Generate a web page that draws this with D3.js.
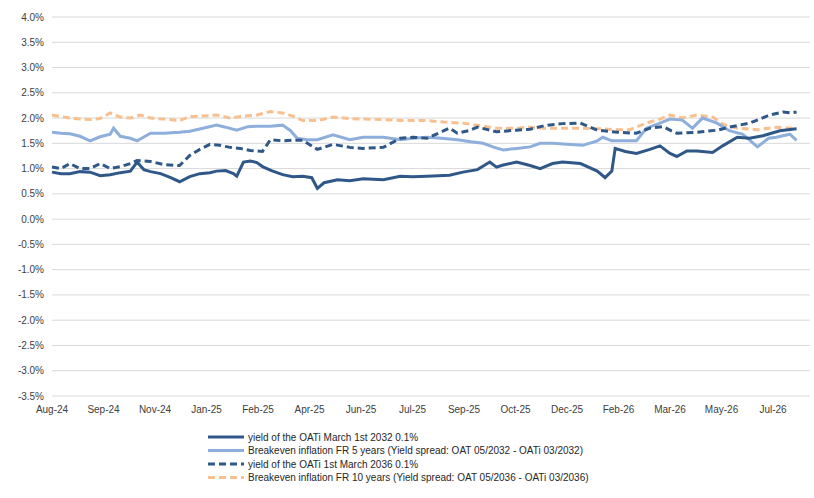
<!DOCTYPE html>
<html><head><meta charset="utf-8">
<script src="https://cdn.jsdelivr.net/npm/d3@7"></script>
<style>body{margin:0;background:#fff}text{font-family:"Liberation Sans",Arial,sans-serif}</style>
</head><body><svg id="c"></svg>
<script>
// tick labels, one every 46 days from start
const tickLabels = ['Aug-24','Sep-24','Nov-24','Jan-25','Feb-25','Apr-25','Jun-25','Jul-25','Sep-25','Oct-25','Dec-25','Feb-26','Mar-26','May-26','Jul-26']
const yTicks = d3.range(-3.5, 4.01, 0.5)

// [day offset, %]
const oati2032 = [[0,0.93],[8,0.9],[16,0.9],[25,0.94],[34,0.93],[43,0.86],[52,0.88],[61,0.92],[70,0.95],[76,1.13],[82,0.98],[88,0.94],[97,0.9],[106,0.82],[114,0.74],[123,0.84],[132,0.9],[141,0.92],[147,0.95],[155,0.96],[162,0.9],[165,0.85],[171,1.13],[177,1.15],[183,1.12],[188,1.04],[196,0.96],[206,0.88],[215,0.84],[224,0.85],[232,0.82],[237,0.61],[243,0.72],[251,0.76],[255,0.78],[266,0.76],[278,0.8],[296,0.78],[311,0.85],[322,0.84],[335,0.85],[355,0.87],[367,0.93],[380,0.98],[391,1.13],[397,1.03],[403,1.07],[415,1.13],[427,1.06],[436,1.0],[447,1.1],[456,1.13],[472,1.1],[487,0.95],[494,0.82],[500,0.95],[503,1.4],[512,1.34],[522,1.3],[534,1.38],[543,1.45],[552,1.3],[558,1.24],[567,1.35],[576,1.35],[590,1.32],[599,1.45],[612,1.62],[623,1.6],[635,1.65],[650,1.75],[665,1.79]]
const bei5y = [[0,1.72],[8,1.7],[16,1.69],[25,1.64],[34,1.55],[43,1.63],[52,1.68],[55,1.8],[61,1.64],[70,1.6],[76,1.55],[88,1.7],[100,1.7],[114,1.72],[123,1.74],[135,1.8],[147,1.86],[155,1.82],[165,1.76],[175,1.83],[183,1.84],[195,1.84],[206,1.86],[213,1.75],[219,1.6],[228,1.57],[237,1.57],[251,1.67],[266,1.57],[278,1.62],[296,1.62],[311,1.57],[322,1.6],[335,1.62],[348,1.6],[362,1.57],[374,1.53],[385,1.5],[395,1.42],[403,1.37],[415,1.4],[427,1.43],[436,1.5],[447,1.5],[460,1.48],[474,1.46],[487,1.55],[492,1.62],[500,1.55],[505,1.55],[522,1.55],[531,1.8],[543,1.9],[552,1.98],[563,1.96],[572,1.8],[581,2.0],[594,1.9],[605,1.75],[617,1.68],[630,1.43],[640,1.6],[647,1.62],[659,1.68],[665,1.56]]
const oati2036 = [[0,1.03],[8,1.0],[16,1.1],[25,1.0],[34,1.0],[43,1.1],[52,1.0],[61,1.04],[70,1.1],[76,1.16],[88,1.14],[100,1.08],[114,1.06],[123,1.26],[132,1.38],[141,1.48],[150,1.46],[159,1.42],[168,1.4],[177,1.36],[188,1.34],[195,1.57],[206,1.55],[215,1.56],[224,1.56],[237,1.38],[251,1.48],[266,1.42],[278,1.4],[296,1.42],[311,1.6],[322,1.62],[335,1.6],[345,1.7],[355,1.8],[362,1.7],[372,1.75],[380,1.82],[397,1.73],[415,1.76],[427,1.78],[440,1.85],[456,1.89],[472,1.9],[487,1.76],[505,1.72],[522,1.7],[534,1.8],[546,1.83],[552,1.76],[558,1.7],[576,1.72],[594,1.76],[605,1.82],[623,1.9],[641,2.06],[653,2.12],[660,2.1],[665,2.12]]
const bei10y = [[0,2.06],[8,2.03],[16,2.0],[25,1.98],[34,1.97],[43,1.99],[52,2.1],[61,2.02],[70,2.0],[79,2.06],[88,2.0],[100,1.98],[114,1.95],[123,2.03],[135,2.04],[147,2.06],[159,2.0],[171,2.04],[183,2.06],[195,2.13],[206,2.1],[215,2.04],[224,1.95],[237,1.95],[251,2.02],[266,1.99],[278,1.98],[296,1.97],[313,1.95],[335,1.95],[350,1.92],[367,1.9],[385,1.84],[397,1.8],[415,1.8],[427,1.82],[440,1.8],[456,1.8],[472,1.8],[487,1.79],[505,1.77],[516,1.77],[531,1.9],[543,1.98],[552,2.06],[563,2.0],[576,2.06],[590,2.02],[599,1.88],[612,1.8],[630,1.77],[647,1.82],[659,1.8],[665,1.78]]

const W = 814, H = 498
const svg = d3.select('#c').attr('width', W).attr('height', H)
const x = d3.scaleLinear().domain([0, 677]).range([52, 810])
const y = d3.scaleLinear().domain([-3.5, 4]).range([396, 17])

// gridlines
svg.append('g').selectAll('line').data(yTicks).join('line')
  .attr('x1', 52).attr('x2', 810).attr('y1', d => y(d)).attr('y2', d => y(d))
  .attr('stroke', '#d9d9d9').attr('stroke-width', 1)

svg.append('g').selectAll('text').data(yTicks).join('text')
  .attr('x', 44).attr('y', d => y(d) + 3.5).attr('text-anchor', 'end')
  .attr('font-size', 10).attr('fill', '#404040').text(d => d.toFixed(1) + '%')

svg.append('g').selectAll('text').data(tickLabels).join('text')
  .attr('x', (d, i) => x(i * 46)).attr('y', 413).attr('text-anchor', 'middle')
  .attr('font-size', 10).attr('fill', '#404040').text(d => d)

const series = [
  { name: 'yield of the OATi March 1st 2032 0.1%', data: oati2032, color: '#2f5889', dash: null },
  { name: 'Breakeven inflation FR 5 years (Yield spread: OAT 05/2032 - OATi 03/2032)', data: bei5y, color: '#8eaedb', dash: null },
  { name: 'yield of the OATi 1st March 2036 0.1%', data: oati2036, color: '#2f5889', dash: '7,4' },
  { name: 'Breakeven inflation FR 10 years (Yield spread: OAT 05/2036 - OATi 03/2036)', data: bei10y, color: '#f8c08e', dash: '7,4' }
]
const line = d3.line().x(d => x(d[0])).y(d => y(d[1]))
// draw order: orange & light under dark
;[3, 1, 2, 0].forEach(i => {
  const s = series[i]
  svg.append('path').attr('d', line(s.data)).attr('fill', 'none')
    .attr('stroke', s.color).attr('stroke-width', 3)
    .attr('stroke-dasharray', s.dash)
})

// legend
const lg = svg.append('g').attr('transform', 'translate(208,437)')
series.forEach((s, i) => {
  const g = lg.append('g').attr('transform', `translate(0,${i * 13.5})`)
  g.append('line').attr('x1', 0).attr('x2', 36).attr('stroke', s.color)
    .attr('stroke-width', 3).attr('stroke-dasharray', s.dash)
  g.append('text').attr('x', 40).attr('y', 3.5).attr('font-size', 10)
    .attr('fill', '#262626').text(s.name)
})
</script></body></html>
